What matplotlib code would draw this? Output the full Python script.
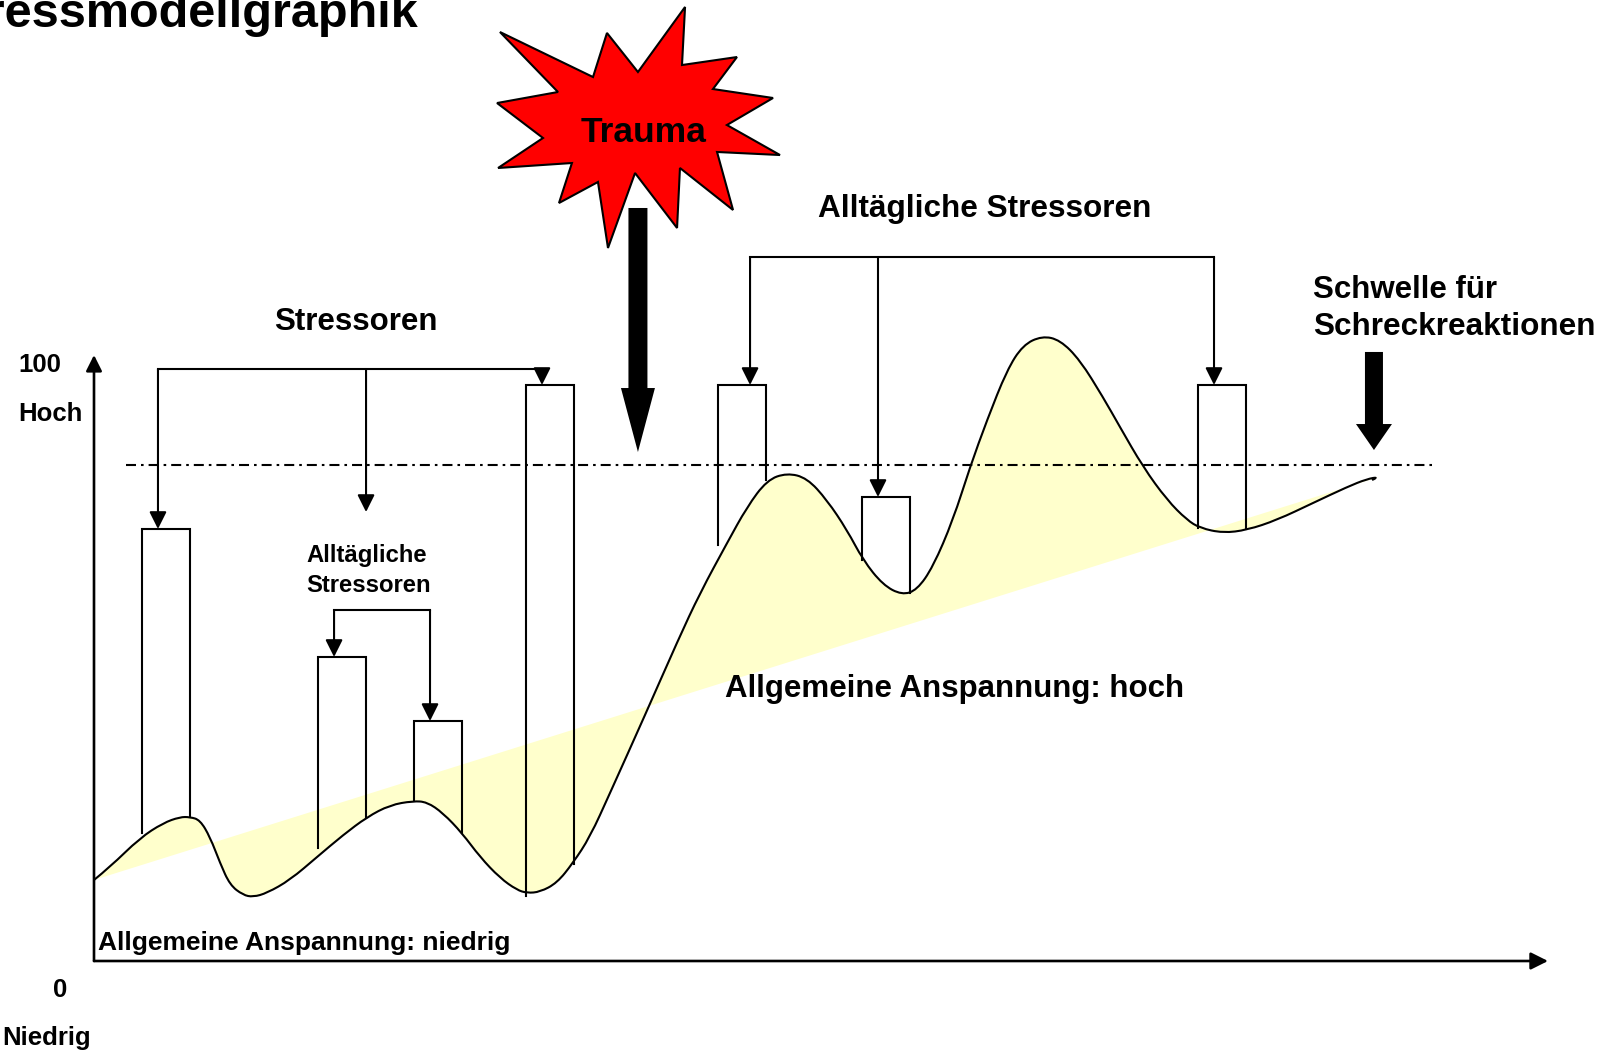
import numpy as np
import matplotlib
matplotlib.use("Agg")
import matplotlib.pyplot as plt
from matplotlib.path import Path
from matplotlib.patches import PathPatch

plt.rcParams['font.family'] = ['Liberation Sans', 'DejaVu Sans']

# ---------------- data (x: time 0..100, y: tension 0..100) ----------------
curve_x = [0.00, 1.10, 3.16, 4.75, 5.91, 6.60, 7.29, 7.98, 8.67, 9.35, 10.25, 10.94,
           11.90, 13.48, 15.34, 17.13, 18.78, 20.36, 21.94, 22.90, 24.00, 25.31, 26.55,
           27.92, 29.09, 29.78, 30.67, 31.84, 32.94, 34.11, 35.49, 37.90, 40.17, 41.68,
           43.54, 44.91, 46.29, 47.66, 49.04, 50.41, 51.79, 52.89, 54.26, 55.57, 56.60,
           57.70, 59.08, 60.25, 61.42, 62.79, 63.89, 65.20, 66.44, 67.81, 69.39, 70.56,
           72.15, 73.80, 75.17, 76.07, 77.65, 79.30, 81.36, 83.84, 86.18, 87.55, 88.38,
           87.90]
curve_y = [13.37, 15.51, 20.30, 22.77, 23.76, 23.76, 23.27, 20.46, 16.17, 12.54, 10.89,
           10.56, 11.22, 13.37, 17.16, 20.79, 23.76, 25.74, 26.40, 26.24, 24.42, 21.12,
           17.16, 13.70, 11.72, 11.22, 11.39, 12.87, 16.17, 20.46, 27.72, 40.59, 52.97,
           60.73, 68.98, 74.92, 79.37, 80.53, 79.70, 76.07, 71.12, 66.17, 62.05, 60.40,
           61.22, 65.02, 72.77, 81.52, 89.27, 97.52, 101.65, 103.14, 102.48, 99.17, 93.07,
           88.12, 81.52, 76.07, 72.77, 71.45, 70.63, 71.12, 72.77, 75.58, 78.22, 79.54,
           79.87, 79.37]

# general tension trend (start, end)
trend_x = [0.00, 88.38]
trend_y = [13.37, 79.87]

# startle threshold
threshold_level = 81.85
threshold_span = [2.20, 92.00]

# stressor bars
bar_left = [3.30, 15.41, 22.01, 29.71, 42.92, 52.82, 75.93]
bar_width = 3.30
bar_top = [71.29, 50.17, 39.60, 95.05, 95.05, 76.57, 95.05]
bar_base_left = [21.12, 18.65, 26.57, 10.73, 68.65, 66.17, 71.45]
bar_base_right = [23.76, 23.76, 21.12, 16.01, 79.37, 60.73, 71.29]

# brackets: level, arrow x, arrow tips
stress_level = 97.69
stress_arrow_x = [4.40, 18.71, 30.81]
stress_arrow_tip = [71.29, 74.09, 95.05]

small_level = 57.92
small_arrow_x = [16.51, 23.11]
small_arrow_tip = [50.17, 39.60]

daily_level = 116.17
daily_arrow_x = [45.12, 53.92, 77.03]
daily_arrow_tip = [95.05, 76.57, 95.05]

# Trauma star outline
star_x = [27.92, 34.32, 35.28, 37.41, 40.65, 40.44, 44.22, 42.57, 46.70, 43.53, 47.18,
          42.85, 43.95, 40.30, 40.10, 37.21, 35.35, 34.66, 31.98, 32.87, 27.79, 30.88,
          27.72, 31.91]
star_y = [153.30, 145.87, 153.14, 146.70, 157.43, 147.85, 149.17, 143.89, 142.41, 137.95,
          133.00, 133.50, 123.93, 130.86, 120.96, 130.03, 117.66, 128.55, 125.08, 131.68,
          130.86, 135.81, 141.58, 143.40]

# block arrows: centre x, top, head base, tip, shaft half width, head half width
trauma_arrow = dict(x=37.41, top=124.26, base=94.55, tip=83.99, shaft=0.653, head=1.169)
schwelle_arrow = dict(x=88.03, top=100.50, base=88.61, tip=84.32, shaft=0.619, head=1.238)

# ---------------- figure ----------------
fig = plt.figure(figsize=(16.04, 10.52), dpi=100)
ax = fig.add_axes([0, 0, 1, 1])
ax.set_xlim(-94 / 14.54, (1604 - 94) / 14.54)
ax.set_ylim((961 - 1052) / 6.06, 961 / 6.06)
ax.axis('off')

LW = 1.5
ASTYLE = '-|>,head_length=0.4,head_width=0.2'


def smooth_path_parts(xs, ys):
    """Quadratic B-spline path through the read points (rendering only)."""
    pts = np.column_stack([xs, ys])
    verts = [pts[0]]
    codes = [Path.MOVETO]
    for i in range(1, len(pts) - 2):
        mid = (pts[i] + pts[i + 1]) / 2.0
        verts += [pts[i], mid]
        codes += [Path.CURVE3, Path.CURVE3]
    verts += [pts[-2], pts[-1]]
    codes += [Path.CURVE3, Path.CURVE3]
    return verts, codes


def arrow(x0, y0, x1, y1, ms=26, lw=LW):
    ax.annotate('', xy=(x1, y1), xytext=(x0, y0),
                arrowprops=dict(arrowstyle=ASTYLE, mutation_scale=ms, lw=lw,
                                color='black', shrinkA=0, shrinkB=0),
                zorder=5)


def block_arrow(a):
    xs = [a['x'] - a['shaft'], a['x'] + a['shaft'], a['x'] + a['shaft'], a['x'] + a['head'],
          a['x'], a['x'] - a['head'], a['x'] - a['shaft']]
    ys = [a['top'], a['top'], a['base'], a['base'], a['tip'], a['base'], a['base']]
    ax.fill(xs, ys, color='black', lw=0, zorder=6)


# yellow area between curve and trend line
n = len(curve_x) - 1
fv, fc = smooth_path_parts(curve_x[:n], curve_y[:n])
fv = list(fv) + [(trend_x[1], trend_y[1]), (trend_x[0], trend_y[0]), (trend_x[0], trend_y[0])]
fc = list(fc) + [Path.LINETO, Path.LINETO, Path.CLOSEPOLY]
ax.add_patch(PathPatch(Path(fv, fc), facecolor='#FFFFCC', edgecolor='none', lw=0, zorder=1))

# curve
cv, cc = smooth_path_parts(curve_x, curve_y)
ax.add_patch(PathPatch(Path(cv, cc), facecolor='none', edgecolor='black', lw=LW,
                       joinstyle='round', zorder=3))

# threshold
ax.plot(threshold_span, [threshold_level] * 2, color='black', lw=LW,
        linestyle=(0, (4.8, 2.4, 1.25, 2.4)), zorder=2)

# bars
for l, t, bl, br in zip(bar_left, bar_top, bar_base_left, bar_base_right):
    r = l + bar_width
    ax.plot([l, l, r, r], [bl, t, t, br], color='black', lw=LW,
            solid_joinstyle='miter', zorder=4)

# brackets
for level, xs, tips in [(stress_level, stress_arrow_x, stress_arrow_tip),
                        (small_level, small_arrow_x, small_arrow_tip),
                        (daily_level, daily_arrow_x, daily_arrow_tip)]:
    ax.plot([min(xs), max(xs)], [level, level], color='black', lw=LW,
            solid_capstyle='projecting', zorder=5)
    for x, tp in zip(xs, tips):
        arrow(x, level, x, tp)

# axes
arrow(0, 0, 0, 100, ms=24, lw=1.9)
arrow(0, 0, 100, 0, ms=26, lw=1.9)

# star + block arrows
ax.fill(star_x, star_y, facecolor='#FF0000', edgecolor='black', lw=1.5, zorder=6)
block_arrow(trauma_arrow)
block_arrow(schwelle_arrow)

# ---------------- texts ----------------
bold = dict(fontweight='bold', color='black', zorder=8)
ax.text(22.28, 154.13, 'Stressmodellgraphik', ha='right', va='baseline', fontsize=35, **bold)
ax.text(37.83, 135.15, 'Trauma', ha='center', va='baseline', fontsize=25.5, **bold)
ax.text(12.38, 104.13, 'Stressoren', ha='left', va='baseline', fontsize=22.5, **bold)
ax.text(49.79, 122.77, 'Alltägliche Stressoren', ha='left', va='baseline', fontsize=22.7, **bold)
ax.text(83.84, 109.41, 'Schwelle für', ha='left', va='baseline', fontsize=22.5, **bold)
ax.text(83.84, 103.30, 'Schreckreaktionen', ha='left', va='baseline', fontsize=22.7, **bold)
ax.text(43.40, 43.56, 'Allgemeine Anspannung: hoch', ha='left', va='baseline', fontsize=22.5, **bold)
ax.text(0.28, 1.82, 'Allgemeine Anspannung: niedrig', ha='left', va='baseline', fontsize=19, **bold)
ax.text(14.58, 65.84, 'Alltägliche', ha='left', va='baseline', fontsize=17.2, **bold)
ax.text(14.58, 60.89, 'Stressoren', ha='left', va='baseline', fontsize=17.2, **bold)
ax.text(-5.23, 97.19, '100', ha='left', va='baseline', fontsize=18.5, **bold)
ax.text(-5.23, 89.11, 'Hoch', ha='left', va='baseline', fontsize=18.5, **bold)
ax.text(-2.82, -5.90, '0', ha='left', va='baseline', fontsize=18.5, **bold)
ax.text(-6.33, -13.90, 'Niedrig', ha='left', va='baseline', fontsize=18.5, **bold)

fig.savefig('out.png', dpi=100)
